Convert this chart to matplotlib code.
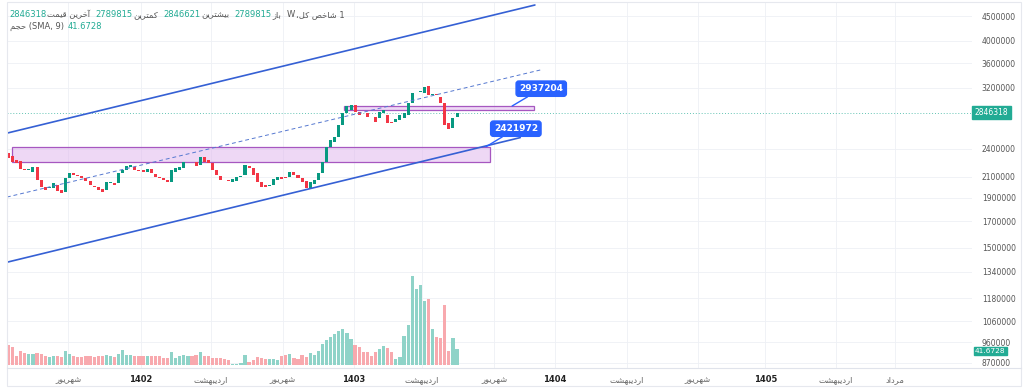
import matplotlib
matplotlib.use("Agg")
import matplotlib.pyplot as plt
from matplotlib.patches import Rectangle
from matplotlib.lines import Line2D
import matplotlib.ticker as mticker

plt.rcParams['font.family'] = ['DejaVu Sans']

# ---------------- data ----------------
opens = [2351000, 2318000, 2274000, 2263000, 2180000, 2169000, 2149000, 2200000, 2069000, 2001000,
         1992000, 1992000, 2020000, 1973000, 1954000, 2089000, 2139000, 2118000, 2108000, 2089000,
         2059000, 2011000, 2001000, 1982000, 1973000, 2040000, 2040000, 2040000, 2139000, 2169000,
         2200000, 2200000, 2169000, 2169000, 2149000, 2180000, 2129000, 2098000, 2089000, 2069000,
         2050000, 2149000, 2169000, 2190000, 2253000, 2253000, 2253000, 2221000, 2307000, 2274000,
         2242000, 2169000, 2108000, 2069000, 2069000, 2050000, 2059000, 2098000, 2118000, 2211000,
         2190000, 2139000, 2050000, 2020000, 2011000, 2020000, 2069000, 2098000, 2098000, 2098000,
         2149000, 2118000, 2089000, 2059000, 1982000, 2030000, 2069000, 2139000, 2253000, 2419000,
         2477000, 2536000, 2685000, 2846000, 2882000, 2951000, 2855000, 2846000, 2846000, 2815000,
         2789000, 2776000, 2846000, 2815000, 2723000, 2723000, 2749000, 2776000, 2815000, 2979000,
         3154000, 3146000, 3124000, 3229000, 3102000, 3110000, 3066000, 2979000, 2710000, 2647000,
         2789815]
closes = [2296000, 2253000, 2242000, 2180000, 2169000, 2180000, 2200000, 2069000, 2001000, 1973000,
          2001000, 2040000, 1964000, 1945000, 2089000, 2139000, 2118000, 2108000, 2089000, 2059000,
          2020000, 2001000, 1973000, 1954000, 2050000, 2050000, 2020000, 2139000, 2169000, 2211000,
          2221000, 2169000, 2164000, 2149000, 2180000, 2139000, 2098000, 2089000, 2069000, 2050000,
          2169000, 2190000, 2200000, 2253000, 2258000, 2248000, 2211000, 2307000, 2253000, 2242000,
          2169000, 2118000, 2069000, 2064000, 2059000, 2079000, 2098000, 2108000, 2221000, 2190000,
          2118000, 2050000, 2001000, 2001000, 2020000, 2079000, 2098000, 2079000, 2089000, 2149000,
          2118000, 2089000, 2050000, 1992000, 2050000, 2069000, 2139000, 2253000, 2419000, 2500000,
          2536000, 2685000, 2846000, 2937000, 2951000, 2855000, 2815000, 2839000, 2789000, 2809000,
          2723000, 2855000, 2882000, 2710000, 2716000, 2763000, 2815000, 2846000, 2979000, 3124000,
          3161000, 3154000, 3214000, 3095000, 3110000, 3095000, 2979000, 2685000, 2635000, 2776000,
          2846318]
volumes = [52, 47, 23, 36, 31, 29, 29, 31, 29, 23,
           21, 23, 23, 21, 36, 29, 23, 21, 21, 23,
           23, 21, 23, 23, 26, 23, 21, 29, 39, 26,
           26, 23, 23, 23, 23, 23, 23, 23, 18, 18,
           34, 18, 23, 26, 23, 23, 26, 34, 23, 23,
           18, 18, 18, 16,
           13, 3, 3, 4, 26, 9, 13, 20, 17, 15,
           15, 16, 13, 23, 26, 29, 17, 15, 26, 20,
           30, 26, 37, 55, 65, 72, 81, 89, 94, 84,
           67, 52, 48, 35, 34, 23, 35, 41, 49, 43,
           35, 15, 22, 75, 104, 231, 199, 208, 167, 171,
           95, 74, 69, 156, 37, 69, 41.6728]

price_ticks = [4500000, 4000000, 3600000, 3200000, 2400000, 2100000, 1900000,
               1700000, 1500000, 1340000, 1180000, 1060000, 960000, 870000]
x_tick_pos = [14.6, 32.5, 49.7, 67.3, 84.7, 101.4, 119.1, 134.0, 151.7, 169.1, 185.6, 202.9, 217.4]
x_tick_labels = ["شهریور", "1402", "اردیبهشت", "شهریور", "1403", "اردیبهشت", "شهریور",
                 "1404", "اردیبهشت", "شهریور", "1405", "اردیبهشت", "مرداد"]

last_price = 2846318
last_volume = 41.6728
level_high = 2937204
level_low = 2421972

# drawing anchors (bar index, price)
upper_channel = [(-0.4, 2583000), (129.1, 4741000)]
lower_channel = [(-0.4, 1401000), (125.5, 2529000)]
mid_dashed = [(-0.4, 1908000), (130.4, 3484000)]
zone_low = (0.86, 118.1, 2253000, level_low)
zone_high = (82.3, 128.9, 2882000, level_high)
callout_high_x = 123.5
callout_low_x = 117.1

hdr_labels = ["آخرین قیمت", "کمترین", "بیشترین", "باز"]
hdr_values = ["2846318", "2789815", "2846621", "2789815"]
hdr_title = "شاخص کل،"
vol_label = "حجم"

# ---------------- Persian shaping (visual order) ----------------
FORMS = {
    'ا': ('\uFE8D', '\uFE8E', None, None), 'آ': ('\uFE81', '\uFE82', None, None),
    'ب': ('\uFE8F', '\uFE90', '\uFE91', '\uFE92'), 'ت': ('\uFE95', '\uFE96', '\uFE97', '\uFE98'),
    'ج': ('\uFE9D', '\uFE9E', '\uFE9F', '\uFEA0'), 'ح': ('\uFEA1', '\uFEA2', '\uFEA3', '\uFEA4'),
    'خ': ('\uFEA5', '\uFEA6', '\uFEA7', '\uFEA8'), 'د': ('\uFEA9', '\uFEAA', None, None),
    'ر': ('\uFEAD', '\uFEAE', None, None), 'ز': ('\uFEAF', '\uFEB0', None, None),
    'ش': ('\uFEB5', '\uFEB6', '\uFEB7', '\uFEB8'), 'ص': ('\uFEB9', '\uFEBA', '\uFEBB', '\uFEBC'),
    'ق': ('\uFED5', '\uFED6', '\uFED7', '\uFED8'), 'ک': ('\uFB8E', '\uFB8F', '\uFB90', '\uFB91'),
    'ك': ('\uFED9', '\uFEDA', '\uFEDB', '\uFEDC'),
    'ل': ('\uFEDD', '\uFEDE', '\uFEDF', '\uFEE0'), 'م': ('\uFEE1', '\uFEE2', '\uFEE3', '\uFEE4'),
    'ن': ('\uFEE5', '\uFEE6', '\uFEE7', '\uFEE8'), 'ه': ('\uFEE9', '\uFEEA', '\uFEEB', '\uFEEC'),
    'و': ('\uFEED', '\uFEEE', None, None), 'ی': ('\uFBFC', '\uFBFD', '\uFBFE', '\uFBFF'),
    'ي': ('\uFEF1', '\uFEF2', '\uFEF3', '\uFEF4'),
}


def rtl(s):
    if not any(c in FORMS for c in s):
        return s
    out = []
    for i, c in enumerate(s):
        if c not in FORMS:
            out.append(c)
            continue
        prev = s[i - 1] if i > 0 else ''
        nxt = s[i + 1] if i + 1 < len(s) else ''
        jp = prev in FORMS and FORMS[prev][2] is not None
        jn = FORMS[c][2] is not None and nxt in FORMS
        f = FORMS[c]
        out.append(f[3] if (jp and jn) else f[2] if jn else f[1] if jp else f[0])
    return ''.join(out)[::-1]


# ---------------- figure ----------------
W, H = 1024, 391
fig = plt.figure(figsize=(W / 100, H / 100), dpi=100)
fig.patch.set_facecolor('white')
ax_l, ax_r, ax_t, ax_b = 7, 972, 2, 368
ax = fig.add_axes([ax_l / W, 1 - ax_b / H, (ax_r - ax_l) / W, (ax_b - ax_t) / H])
ax.set_yscale('log')
ax.set_ylim(848800, 4809000)
ax.set_xlim(-0.37, 236.3)

GREEN = '#089981'
RED = '#f23645'
VGREEN = '#8fd3c8'
VRED = '#f8a9ae'
TEAL = '#22ab94'
BLUE = '#3560d4'
GRID = '#eef0f5'

# grid
for p in price_ticks:
    ax.axhline(p, color=GRID, lw=0.6, zorder=0)
for xp in x_tick_pos:
    ax.axvline(xp, color=GRID, lw=0.6, zorder=0)

# volume axis
ax2 = ax.twinx()
ax2.set_ylim(-7.8, 945)
ax2.set_yticks([])
for s in ax2.spines.values():
    s.set_visible(False)
xs = list(range(len(closes)))
vcols = [VGREEN if c >= o else VRED for o, c in zip(opens, closes)]
ax2.bar(xs, volumes, width=0.78, color=vcols, zorder=1)
ax2.patch.set_visible(False)

# candles
bottoms = [min(o, c) for o, c in zip(opens, closes)]
heights = [max(abs(c - o), 5000) for o, c in zip(opens, closes)]
ccols = [GREEN if c >= o else RED for o, c in zip(opens, closes)]
ax.bar(xs, heights, bottom=bottoms, width=0.74, color=ccols, zorder=4)

# zones
for (x0, x1, p0, p1) in [zone_low, zone_high]:
    ax.add_patch(Rectangle((x0, p0), x1 - x0, p1 - p0, facecolor=(0.88, 0.72, 0.93, 0.55),
                           edgecolor='#a657c0', lw=0.9, zorder=3))

# channel lines
for seg, ls, lw, col in [(upper_channel, '-', 1.2, BLUE), (lower_channel, '-', 1.2, BLUE),
                         (mid_dashed, (0, (4, 3)), 0.7, '#5578d0')]:
    ax.plot([seg[0][0], seg[1][0]], [seg[0][1], seg[1][1]], linestyle=ls, lw=lw,
            color=col, zorder=5, solid_capstyle='round')

# current price line
ax.axhline(last_price, color=TEAL, lw=0.7, linestyle=(0, (1, 2)), alpha=0.7, zorder=2)

# callouts
for xv, pv, dx, dy in [(callout_high_x, level_high, 21, 12.5), (callout_low_x, level_low, 21.5, 13)]:
    ax.annotate(str(pv), xy=(xv, pv), xytext=(dx, dy), textcoords='offset points',
                ha='center', va='center', color='white', fontsize=6.5, fontweight='bold',
                bbox=dict(boxstyle='round,pad=0.35,rounding_size=0.3', fc='#2962ff', ec='#2962ff'),
                arrowprops=dict(arrowstyle='-', color='#2962ff', lw=1.0, shrinkA=0, shrinkB=0),
                zorder=7)

# y axis on right
ax.yaxis.tick_right()
ax.yaxis.set_major_locator(mticker.FixedLocator(price_ticks))
ax.yaxis.set_major_formatter(mticker.FixedFormatter([str(p) for p in price_ticks]))
ax.yaxis.set_minor_locator(mticker.NullLocator())
ax.yaxis.set_minor_formatter(mticker.NullFormatter())
ax.tick_params(axis='y', which='both', length=0, pad=7, labelsize=5.5, labelcolor='#555555')

# x axis
ax.set_xticks(x_tick_pos)
ax.set_xticklabels([rtl(t) for t in x_tick_labels])
ax.tick_params(axis='x', length=0, pad=5, labelsize=6, labelcolor='#666666')
for t, lab in zip(ax.get_xticklabels(), x_tick_labels):
    if lab.isdigit():
        t.set_fontweight('bold')
        t.set_color('#222222')

for name, s in ax.spines.items():
    s.set_visible(False)

# price label boxes
ax.annotate(str(last_price), xy=(1.0, last_price), xycoords=('axes fraction', 'data'),
            xytext=(2, 0), textcoords='offset points', ha='left', va='center', fontsize=5.5,
            color='white', bbox=dict(boxstyle='square,pad=0.3', fc=TEAL, ec=TEAL),
            annotation_clip=False, zorder=8)
ax2.annotate(f"{last_volume}", xy=(1.0, last_volume), xycoords=('axes fraction', 'data'),
             xytext=(2, -1.5), textcoords='offset points', ha='left', va='center', fontsize=5.3,
             color='white', bbox=dict(boxstyle='square,pad=0.15', fc=TEAL, ec=TEAL),
             annotation_clip=False, zorder=8)

# frame lines
fig.add_artist(Line2D([7 / W, 1021 / W], [1 - 368 / H, 1 - 368 / H], color='#e0e3eb', lw=0.8))
fig.add_artist(Rectangle((7 / W, 1 - 386 / H), 1014 / W, 384 / H, fill=False,
                         edgecolor='#e6e8ee', lw=0.8, transform=fig.transFigure))

# header
renderer = fig.canvas.get_renderer()
GRAY = '#555555'


def chain(x_px, y_px, segs, size):
    for s, col, gap in segs:
        t = fig.text(x_px / W, 1 - y_px / H, s, color=col, fontsize=size, va='baseline', ha='left')
        x_px += t.get_window_extent(renderer).width + gap


segs = []
for lab, val in zip(hdr_labels, hdr_values):
    segs.append((val, TEAL, 1))
    segs.append((rtl(lab), GRAY, 5))
segs.append(("W", GRAY, 1))
segs.append((rtl(hdr_title) + " 1", GRAY, 0))
chain(9, 17, segs, 6)
chain(10, 29, [(rtl(vol_label) + " (SMA, 9)", GRAY, 4), (f"{last_volume}", TEAL, 0)], 6)

fig.savefig("out.png", dpi=100, facecolor='white')
